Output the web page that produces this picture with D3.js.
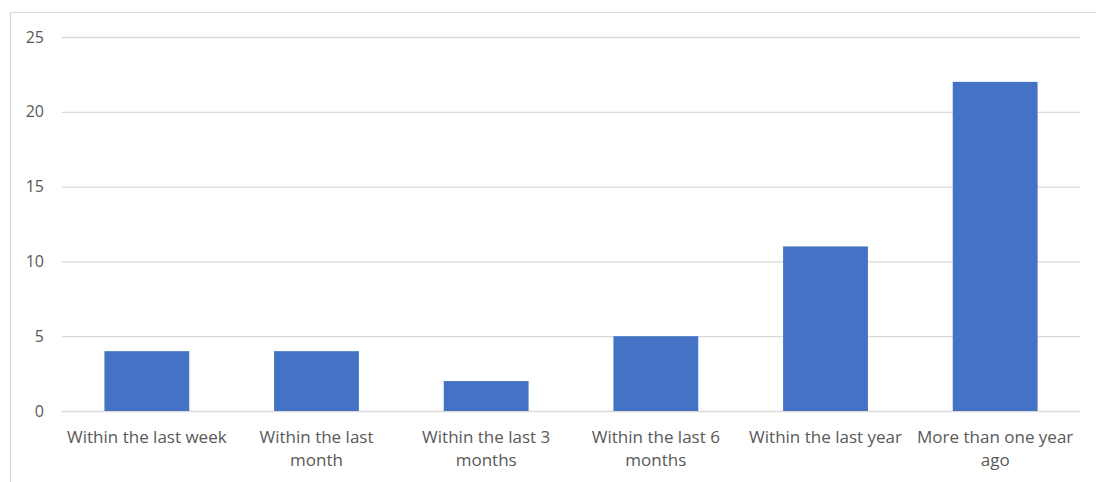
<!DOCTYPE html>
<html><head><meta charset="utf-8">
<script src="https://cdn.jsdelivr.net/npm/d3@7"></script>
<style>body{margin:0;background:#fff}svg{display:block}text{font-family:"Open Sans",sans-serif;fill:#595959}</style>
</head><body>
<svg id="c" width="1096" height="482"></svg>
<script>
const categories = ["Within the last week","Within the last month","Within the last 3 months","Within the last 6 months","Within the last year","More than one year ago"];
const values = [4, 4, 2, 5, 11, 22];
const yTicks = [0, 5, 10, 15, 20, 25];

(function(){
const svg = d3.select("#c");
const W = 1096, H = 482;
const mLeft = 62, mRight = 1080, mTop = 37, mBottom = 411;

// chart border
svg.append("path").attr("d", `M10.5,${H} V12.5 H${W}`).attr("fill","none").attr("stroke","#d9d9d9").attr("stroke-width",1.2);

const x = d3.scaleBand().domain(categories).range([mLeft, mRight]).paddingInner(0.5).paddingOuter(0.25);
const y = d3.scaleLinear().domain([0, 25]).range([mBottom, mTop]);

const yAxis = svg.append("g").attr("transform", `translate(${mLeft},0)`)
  .call(d3.axisLeft(y).tickValues(yTicks).tickSize(-(mRight-mLeft)).tickPadding(18).tickFormat(d3.format("d")));
yAxis.select(".domain").remove();
yAxis.selectAll(".tick line").attr("stroke","#d9d9d9").attr("stroke-width",1.3);
yAxis.selectAll(".tick text").attr("font-size","16px").style("fill","#595959").attr("font-family","'Open Sans',sans-serif");

svg.append("g").selectAll("rect").data(values).join("rect")
  .attr("x",(d,i)=>x(categories[i])).attr("width",x.bandwidth())
  .attr("y",d=>y(d)).attr("height",d=>y(0)-y(d)).attr("fill","#4472C4");

const xAxis = svg.append("g").attr("transform", `translate(0,${mBottom})`)
  .call(d3.axisBottom(x).tickSize(0).tickPadding(0));
xAxis.select(".domain").remove();
xAxis.selectAll(".tick text").each(function(d){
  const t = d3.select(this).text(null).attr("font-size","17px").attr("font-family","'Open Sans',sans-serif").style("fill","#595959").attr("dy",null).attr("y",0);
  const words = d.split(" ");
  const maxW = 165;
  let line = [], lines = [];
  const tmp = t.append("tspan");
  for (const w of words) {
    line.push(w);
    tmp.text(line.join(" "));
    if (tmp.node().getComputedTextLength() > maxW && line.length > 1) {
      line.pop(); lines.push(line.join(" ")); line = [w];
    }
  }
  lines.push(line.join(" "));
  tmp.remove();
  lines.forEach((l,k)=>t.append("tspan").attr("x",0).attr("y",32 + k*23).text(l));
});
})();
</script>
</body></html>
